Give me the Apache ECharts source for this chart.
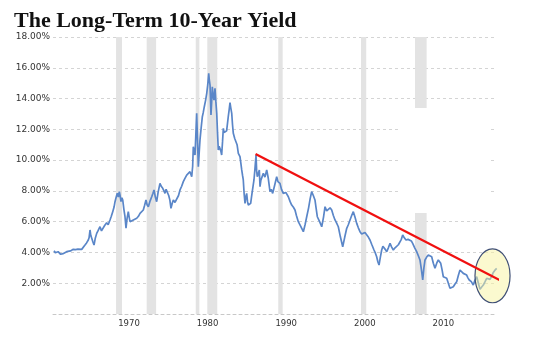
<!DOCTYPE html>
<html>
<head>
<meta charset="utf-8">
<script src="https://cdn.jsdelivr.net/npm/echarts@6/dist/echarts.min.js"></script>
<style>
  html, body { margin: 0; padding: 0; background: #ffffff; }
  #chart { width: 550px; height: 340px; }
</style>
</head>
<body>
<div id="chart"></div>
<script>
// 10-year Treasury yield (%), positions in axis years
const years = [
  1960.46, 1960.62, 1960.80, 1960.98, 1961.15, 1961.30, 1961.44, 1961.60, 1961.80, 1962.07,
  1962.30, 1962.55, 1962.91, 1963.20, 1963.50, 1963.75, 1963.98, 1964.20, 1964.40, 1964.60,
  1964.82, 1964.92, 1965.04, 1965.14, 1965.26, 1965.40, 1965.55, 1965.70, 1965.89, 1966.05,
  1966.20, 1966.31, 1966.50, 1966.73, 1966.90, 1967.16, 1967.35, 1967.58, 1967.75, 1967.93,
  1968.10, 1968.22, 1968.35, 1968.51, 1968.65, 1968.77, 1968.88, 1968.98, 1969.10, 1969.20,
  1969.35, 1969.49, 1969.62, 1969.75, 1969.91, 1970.02, 1970.13, 1970.35, 1970.55, 1970.75,
  1970.98, 1971.20, 1971.40, 1971.60, 1971.82, 1971.98, 1972.16, 1972.30, 1972.46, 1972.65,
  1972.89, 1973.05, 1973.18, 1973.35, 1973.52, 1973.70, 1973.94, 1974.10, 1974.29, 1974.45,
  1974.58, 1974.72, 1974.87, 1975.05, 1975.20, 1975.34, 1975.50, 1975.64, 1975.85, 1976.07,
  1976.30, 1976.49, 1976.70, 1976.91, 1977.10, 1977.34, 1977.55, 1977.76, 1977.98, 1978.10,
  1978.18, 1978.30, 1978.40, 1978.50, 1978.61, 1978.70, 1978.82, 1978.92, 1979.03, 1979.18,
  1979.33, 1979.45, 1979.58, 1979.75, 1979.89, 1980.02, 1980.14, 1980.22, 1980.31, 1980.43,
  1980.52, 1980.60, 1980.70, 1980.81, 1980.94, 1981.05, 1981.16, 1981.26, 1981.36, 1981.47,
  1981.58, 1981.68, 1981.79, 1981.90, 1982.00, 1982.10, 1982.21, 1982.42, 1982.63, 1982.75,
  1982.85, 1982.95, 1983.07, 1983.17, 1983.27, 1983.45, 1983.61, 1983.75, 1983.91, 1984.12,
  1984.23, 1984.34, 1984.45, 1984.54, 1984.65, 1984.76, 1984.86, 1984.97, 1985.08, 1985.18,
  1985.33, 1985.48, 1985.56, 1985.65, 1985.78, 1985.90, 1986.02, 1986.16, 1986.24, 1986.32,
  1986.45, 1986.58, 1986.67, 1986.78, 1986.88, 1987.09, 1987.30, 1987.52, 1987.72, 1987.94,
  1988.10, 1988.28, 1988.50, 1988.79, 1988.95, 1989.12, 1989.21, 1989.40, 1989.63, 1989.95,
  1990.27, 1990.50, 1990.70, 1990.90, 1991.12, 1991.30, 1991.54, 1991.85, 1992.18, 1992.40,
  1992.61, 1992.85, 1993.05, 1993.24, 1993.45, 1993.66, 1993.80, 1993.96, 1994.25, 1994.52,
  1994.75, 1994.94, 1995.15, 1995.36, 1995.58, 1995.79, 1996.00, 1996.21, 1996.42, 1996.63,
  1996.90, 1997.19, 1997.45, 1997.70, 1997.90, 1998.12, 1998.33, 1998.54, 1998.75, 1998.97,
  1999.18, 1999.39, 1999.60, 1999.81, 2000.02, 2000.24, 2000.45, 2000.66, 2000.90, 2001.17,
  2001.35, 2001.51, 2001.66, 2001.81, 2001.98, 2002.15, 2002.30, 2002.44, 2002.60, 2002.79,
  2003.00, 2003.21, 2003.42, 2003.63, 2003.85, 2004.06, 2004.27, 2004.48, 2004.65, 2004.82,
  2005.03, 2005.24, 2005.50, 2005.75, 2005.92, 2006.09, 2006.35, 2006.60, 2006.80, 2007.02,
  2007.20, 2007.37, 2007.52, 2007.66, 2007.87, 2008.08, 2008.30, 2008.51, 2008.72, 2008.93,
  2009.15, 2009.35, 2009.50, 2009.66, 2009.82, 2009.99, 2010.20, 2010.42, 2010.63, 2010.84,
  2011.05, 2011.26, 2011.48, 2011.69, 2011.90, 2012.11, 2012.32, 2012.53, 2012.75, 2012.96,
  2013.12, 2013.29, 2013.55, 2013.80, 2014.02, 2014.24, 2014.45, 2014.66, 2014.87, 2015.08,
  2015.30, 2015.51, 2015.72, 2015.93, 2016.14, 2016.35, 2016.56, 2016.78
];
const yields = [
  4.11, 3.98, 3.94, 4.05, 3.95, 3.88, 3.83, 3.92, 3.96, 4.05,
  4.00, 4.10, 4.20, 4.18, 4.22, 4.18, 4.20, 4.30, 4.48, 4.62,
  4.81, 4.95, 5.46, 5.10, 4.92, 4.70, 4.48, 4.90, 5.24, 5.40,
  5.50, 5.67, 5.40, 5.46, 5.75, 5.93, 5.80, 6.11, 6.35, 6.65,
  6.95, 7.30, 7.55, 7.84, 7.60, 7.95, 7.65, 7.30, 7.55, 7.41,
  6.80, 6.32, 5.57, 6.20, 6.65, 6.30, 6.00, 6.05, 6.11, 6.05,
  6.22, 6.35, 6.54, 6.45, 6.76, 7.05, 7.41, 7.10, 6.97, 7.30,
  7.62, 7.85, 8.06, 7.60, 7.30, 7.90, 8.49, 8.30, 8.17, 8.00,
  7.84, 8.10, 8.06, 7.70, 7.40, 6.87, 7.20, 7.41, 7.25, 7.30,
  7.70, 8.06, 8.30, 8.60, 8.80, 9.03, 9.15, 9.25, 8.92, 9.60,
  10.87, 10.50, 10.33, 11.60, 13.04, 11.50, 9.57, 10.40, 11.30, 12.10,
  12.82, 13.10, 13.47, 13.90, 14.34, 14.90, 15.64, 15.20, 14.88, 12.93,
  13.80, 14.77, 14.20, 13.90, 14.67, 13.80, 13.04, 11.80, 10.66, 10.90,
  10.98, 10.60, 10.33, 11.20, 12.06, 11.80, 11.74, 11.90, 12.82, 13.30,
  13.73, 13.40, 13.04, 12.30, 11.74, 11.40, 11.52, 11.00, 10.44, 10.22,
  9.80, 9.36, 9.00, 8.71, 7.80, 7.19, 7.60, 7.84, 7.30, 7.08,
  7.10, 7.19, 7.50, 7.84, 8.30, 8.71, 9.40, 10.33, 9.30, 8.92,
  9.10, 9.36, 8.27, 8.70, 8.71, 9.14, 8.90, 9.36, 8.82, 7.95,
  8.10, 7.84, 8.30, 8.92, 8.60, 8.71, 8.49, 8.10, 7.84, 7.90,
  7.62, 7.30, 7.08, 6.95, 6.76, 6.40, 6.00, 5.70, 5.35, 5.80,
  6.32, 6.90, 7.50, 7.95, 7.70, 7.41, 6.90, 6.32, 6.00, 5.67,
  6.30, 6.97, 6.70, 6.65, 6.90, 6.76, 6.40, 6.11, 5.90, 5.67,
  5.00, 4.37, 5.00, 5.57, 5.80, 6.11, 6.40, 6.65, 6.30, 5.89,
  5.60, 5.35, 5.20, 5.13, 5.30, 5.24, 5.00, 4.81, 4.50, 4.16,
  3.95, 3.72, 3.40, 3.18, 3.70, 4.16, 4.40, 4.48, 4.20, 4.05,
  4.30, 4.59, 4.35, 4.16, 4.30, 4.37, 4.50, 4.59, 4.85, 5.13,
  4.95, 4.81, 4.85, 4.92, 4.75, 4.59, 4.30, 4.05, 3.80, 3.51,
  2.90, 2.21, 3.00, 3.51, 3.70, 3.83, 3.75, 3.72, 3.30, 2.97,
  3.30, 3.51, 3.40, 3.29, 2.90, 2.42, 2.38, 2.32, 2.00, 1.67,
  1.72, 1.77, 1.95, 2.10, 2.50, 2.86, 2.75, 2.64, 2.60, 2.53,
  2.35, 2.21, 2.10, 1.88, 2.20, 2.42, 2.00, 1.60, 1.75, 1.88,
  2.10, 2.32, 2.25, 2.25, 2.45, 2.70, 2.85, 2.97
];

// Shaded recession periods
const recessionStart = [1968.35, 1972.25, 1978.49, 1979.96, 1988.99, 1999.52, 2006.39];
const recessionEnd   = [1969.11, 1973.45, 1978.95, 1981.23, 1989.55, 2000.18, 2007.87];

// Hand-drawn downtrend line
const trendYears  = [1986.10, 2017.80];
const trendValues = [10.40, 2.03];

// Highlighted latest stretch (ellipse centre and radii in axis units)
const highlightCenter = [2016.25, 2.48];
const highlightRadius = [2.23, 1.75];

// Blank patch over the upper plot area
const blankFrom = [2004.22, 13.39];
const blankTo   = [2015.93, 6.56];

const xLabels = [1970, 1980, 1990, 2000, 2010];

const chart = echarts.init(document.getElementById('chart'), null, { renderer: 'canvas' });

const seriesData = years.map((y, i) => [y, yields[i]]);
const trendData = trendYears.map((y, i) => [y, trendValues[i]]);
const recessionAreas = recessionStart.map((s, i) => [{ xAxis: s }, { xAxis: recessionEnd[i] }]);

chart.setOption({
  animation: false,
  backgroundColor: '#ffffff',
  title: {
    text: 'The Long-Term 10-Year Yield',
    left: 9,
    top: 5,
    textStyle: {
      fontFamily: 'Liberation Serif',
      fontWeight: 'bold',
      fontSize: 22,
      color: '#111111'
    }
  },
  grid: { left: 53, right: 53, top: 37, bottom: 26 },
  xAxis: {
    type: 'value',
    min: 1960.33,
    max: 2016.82,
    axisLine: { show: true, lineStyle: { color: '#c8c8c8', type: [3, 3], width: 1 } },
    axisTick: { show: false },
    splitLine: { show: false },
    axisLabel: {
      customValues: xLabels,
      formatter: v => String(Math.round(v)),
      fontFamily: 'DejaVu Sans',
      fontSize: 8.5,
      color: '#333333',
      margin: 5
    }
  },
  yAxis: {
    type: 'value',
    min: 0,
    max: 18,
    interval: 2,
    axisLine: { show: false },
    axisTick: { show: false },
    splitLine: { show: true, lineStyle: { color: '#d4d4d4', type: [3, 3], width: 1 } },
    axisLabel: {
      formatter: v => (v === 0 ? '' : v.toFixed(2) + '%'),
      fontFamily: 'DejaVu Sans',
      fontSize: 9,
      color: '#333333',
      margin: 3
    }
  },
  series: [
    {
      name: '10-Year Yield',
      type: 'line',
      data: seriesData,
      showSymbol: false,
      symbol: 'none',
      z: 2,
      lineStyle: { color: '#5a86c8', width: 1.7 },
      markArea: {
        silent: true,
        itemStyle: { color: '#e3e3e3' },
        data: recessionAreas
      }
    },
    {
      name: 'Trend',
      type: 'line',
      data: trendData,
      showSymbol: false,
      symbol: 'none',
      clip: false,
      z: 10,
      lineStyle: { color: '#f01010', width: 2.3 }
    }
  ]
});

function drawOverlays() {
  const c = chart.convertToPixel({ gridIndex: 0 }, highlightCenter);
  const edge = chart.convertToPixel({ gridIndex: 0 }, [
    highlightCenter[0] + highlightRadius[0],
    highlightCenter[1] + highlightRadius[1]
  ]);
  const b0 = chart.convertToPixel({ gridIndex: 0 }, blankFrom);
  const b1 = chart.convertToPixel({ gridIndex: 0 }, blankTo);
  chart.setOption({
    graphic: [
      {
        type: 'rect',
        z: 4,
        silent: true,
        shape: { x: b0[0], y: b0[1], width: b1[0] - b0[0], height: b1[1] - b0[1] },
        style: { fill: '#ffffff' }
      },
      {
        type: 'ellipse',
        z: 5,
        silent: true,
        shape: { cx: c[0], cy: c[1], rx: edge[0] - c[0], ry: c[1] - edge[1] },
        style: { fill: 'rgba(248,244,160,0.5)', stroke: '#3f4f75', lineWidth: 1.2 }
      }
    ]
  });
}
drawOverlays();
</script>
</body>
</html>
